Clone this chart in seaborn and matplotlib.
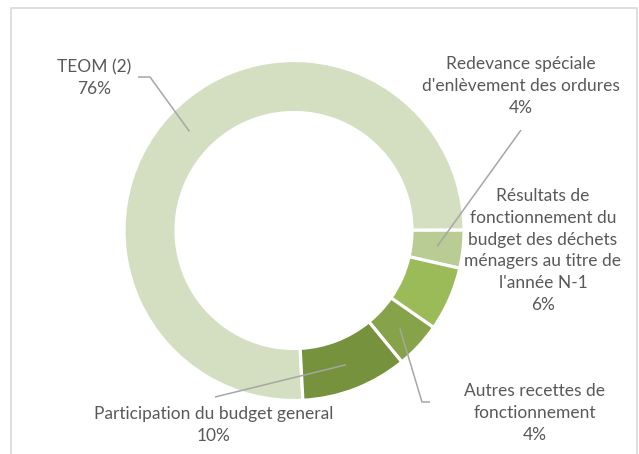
import numpy as np
import matplotlib
matplotlib.use("Agg")
import matplotlib.pyplot as plt
import seaborn as sns
from matplotlib.patches import Rectangle

# ========== DATA ==========
categories = [
    "TEOM (2)",
    "Redevance spéciale\nd'enlèvement des ordures",
    "Résultats de\nfonctionnement du\nbudget des déchets\nménagers au titre de\nl'année N-1",
    "Autres recettes de\nfonctionnement",
    "Participation du budget general",
]
shares = [75.8, 3.6, 6.1, 4.4, 10.1]

# ========== LAYOUT ==========
W, H = 639, 454
CX, CY = 294, 230.5           # donut centre, px from top-left
R_OUT, RING = 170, 52
START = -87
colors = ["#d3dfc0", "#b8cc93", "#9bbb59", "#86a34a", "#76923c"]
TEXT_C, LINE_C, FRAME_C = "#595959", "#a6a6a6", "#d9d9d9"

# label centre (px) and leader line path from label side (None = no leader)
label_pos = [(94, 78.5), (521, 86), (543, 250.5), (535, 413), (214, 425)]
leaders = [
    [(138, 77), (150, 77)],
    [(521, 130)],
    None,
    [(430, 402), (422, 402)],
    [(215, 397)],
]

sns.set_theme(style="white")
plt.rcParams["font.family"] = ["Lato", "DejaVu Sans"]

fig = plt.figure(figsize=(W / 100, H / 100), dpi=100)
ax = fig.add_axes([0, 0, 1, 1])

wedges, _ = ax.pie(
    shares, colors=colors, startangle=START, counterclock=False,
    center=(CX, H - CY), radius=R_OUT,
    wedgeprops=dict(width=RING, edgecolor="white", linewidth=2.3),
)
ax.set_xlim(0, W)
ax.set_ylim(0, H)
ax.set_aspect("equal")
ax.axis("off")

r_mid = R_OUT - RING / 2
for w, name, v, (lx, ly), path in zip(wedges, categories, shares, label_pos, leaders):
    ax.text(lx, H - ly, f"{name}\n{round(v):.0f}%", ha="center", va="center",
            fontsize=12.5, color=TEXT_C, linespacing=1.45)
    if path is None:
        continue
    ang = np.deg2rad((w.theta1 + w.theta2) / 2)
    px = CX + r_mid * np.cos(ang)
    py = H - CY + r_mid * np.sin(ang)
    xs = [p[0] for p in path] + [px]
    ys = [H - p[1] for p in path] + [py]
    ax.plot(xs, ys, color=LINE_C, lw=1.1, solid_capstyle="butt")

ax.add_patch(Rectangle((11, H - 470), 626, 462, fill=False,
                       edgecolor=FRAME_C, lw=1.2, clip_on=False))

fig.savefig("out.png", dpi=100)
